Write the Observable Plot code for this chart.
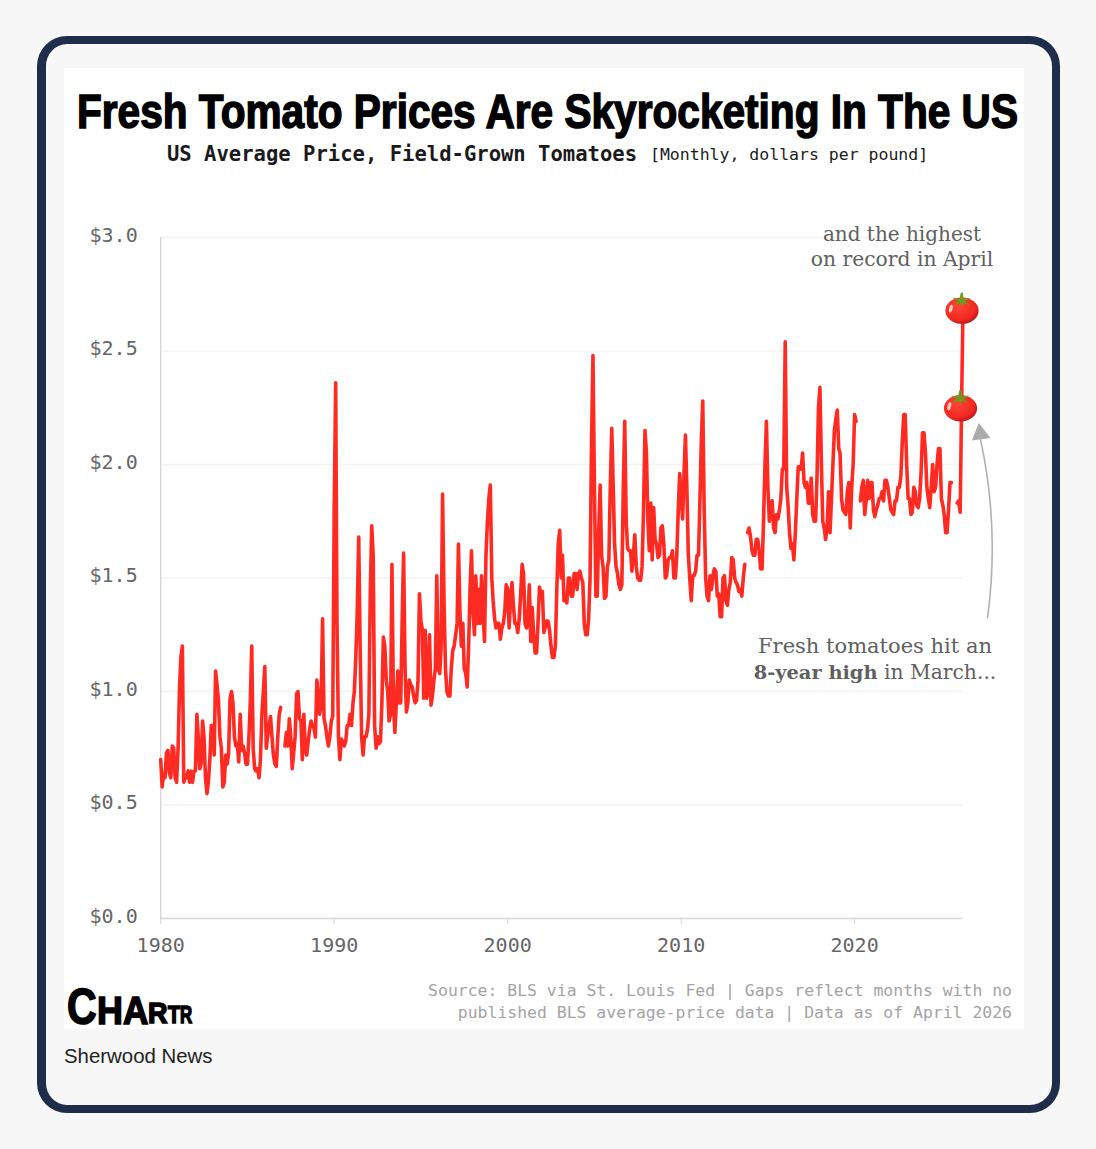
<!DOCTYPE html>
<html><head><meta charset="utf-8">
<script src="https://cdn.jsdelivr.net/npm/d3@7"></script>
<script src="https://cdn.jsdelivr.net/npm/@observablehq/plot@0.6"></script>
<style>
html,body{margin:0;padding:0;background:#f7f7f7;width:1096px;height:1149px;overflow:hidden}
#page{position:relative;width:1096px;height:1149px;background:#f7f7f7;overflow:hidden}
#frame{position:absolute;left:37px;top:36px;width:1006px;height:1061px;border:8px solid #1e2d4a;border-left-width:9px;border-radius:30px}
#panel{position:absolute;left:64px;top:68px;width:960px;height:961px;background:#fff}
#chart{position:absolute;left:64px;top:190px}
.abs{position:absolute;white-space:nowrap}
#title{left:77px;top:82px;font:700 48px/60px "Liberation Sans Narrow","Liberation Sans",sans-serif;color:#000;-webkit-text-stroke:1.5px #000;transform-origin:0 50%}
#sub{left:167px;top:142px;font:700 20.55px/24px "DejaVu Sans Mono",monospace;color:#1a1a1a}
#sub2{left:650px;top:143px;font:400 16.5px/24px "DejaVu Sans Mono",monospace;color:#1a1a1a}
.note{font:400 20px/25px "DejaVu Serif",serif;color:#606060;text-align:center}
#src{right:84px;top:980px;font:400 16.45px/22px "DejaVu Sans Mono",monospace;color:#a3a3a3;text-align:right}
#sherwood{left:64px;top:1043px;font:400 20.4px/26px "Liberation Sans",sans-serif;color:#222}
#logo span{position:absolute;font-family:"Liberation Sans",sans-serif;font-weight:700;color:#000;-webkit-text-stroke:1.6px #000;line-height:1;transform-origin:0 0}
</style></head><body>
<div id="page">
  <div id="frame"></div>
  <div id="panel"></div>
  <div id="chart"></div>
  <div class="abs" id="title">Fresh Tomato Prices Are Skyrocketing In The US</div>
  <div class="abs" id="sub">US Average Price, Field-Grown Tomatoes</div>
  <div class="abs" id="sub2">[Monthly, dollars per pound]</div>
  <div class="abs note" style="left:802px;top:222px;width:200px"><span>and the highest</span><br><span style="font-size:20.3px">on record in April</span></div>
  <div class="abs note" style="left:745px;top:633px;width:260px;line-height:26px"><span style="font-size:21px">Fresh tomatoes hit an</span><br><b style="font-size:19.4px">8-year high</b><span style="font-size:20.3px"> in March...</span></div>
  <div class="abs" id="src">Source: BLS via St. Louis Fed | Gaps reflect months with no<br>published BLS average-price data | Data as of April 2026</div>
  <div class="abs" id="logo" aria-label="Chartr" style="left:0;top:0">
    <span style="left:67px;top:982px;font-size:50px;transform:scaleX(.82)">C</span>
    <span style="left:97px;top:991px;font-size:39px;transform:scaleX(.92)">H</span>
    <span style="left:123px;top:991px;font-size:39px;transform:scaleX(.9)">A</span>
    <span style="left:148px;top:998px;font-size:30px;transform:scaleX(.9)">R</span>
    <span style="left:168px;top:1003px;font-size:24px;transform:scaleX(.82)">T</span>
    <span style="left:180px;top:1003px;font-size:24px;transform:scaleX(.7)">R</span>
  </div>
  <div class="abs" id="sherwood">Sherwood News</div>
</div>
<script>
const prices1980s = [
  .70,.58,.64,.62,.73,.74,.64,.62,.76,.75,.62,.60,
  .75,1.02,1.15,1.20,.60,.63,.62,.65,.60,.65,.60,.65,
  .65,.90,.80,.66,.68,.87,.80,.62,.55,.60,.70,.85,
  .85,.72,1.09,1.03,.96,.80,.75,.58,.60,.72,.68,.73,
  .97,1.00,.95,.80,.76,.77,.69,.90,.74,.76,.73,.68,
  .68,.80,.95,1.20,.75,.66,.65,.66,.62,.70,.90,1.00,
  1.11,.75,.80,.85,.89,.80,.72,.68,.67,.80,.90,.93,
  null,null,.76,.82,.76,.88,.80,.66,.73,.80,.99,1.00,
  .88,.87,.70,.90,.75,.72,.78,.83,.87,.85,.84,.80,
  1.05,.98,.90,.95,1.32,.88,.85,.80,.76,.80,.87,.89];
const prices1990s = [
  1.80,2.36,1.30,.80,.70,.79,.78,.76,.78,.85,.85,.90,
  .85,.95,1.00,1.15,1.35,1.68,1.20,.80,.72,.80,.80,.83,
  .90,1.45,1.73,1.60,.85,.75,.80,.77,.78,.95,1.24,1.20,
  1.05,1.00,.87,.90,1.56,.95,.82,.95,1.09,.95,.95,1.30,
  1.61,1.10,.91,.95,1.05,1.03,1.02,.98,.95,.96,1.05,1.43,
  1.31,1.27,.97,1.27,.97,1.00,1.25,.94,.98,1.05,1.10,1.51,
  1.10,1.08,1.20,1.87,1.40,1.10,1.00,.98,.98,1.10,1.18,1.20,
  1.25,1.30,1.65,1.35,1.20,1.30,1.10,1.08,1.02,1.20,1.45,1.62,
  1.35,1.25,1.51,1.30,1.45,1.30,1.51,1.35,1.22,1.60,1.75,1.85,
  1.91,1.50,1.40,1.32,1.28,1.30,1.30,1.23,1.28,1.30,1.35,1.47];
const prices2000s = [
  1.45,1.28,1.40,1.48,1.38,1.30,1.30,1.26,1.32,1.43,1.56,1.52,
  1.30,1.28,1.30,1.47,1.22,1.37,1.25,1.17,1.17,1.30,1.46,1.43,
  1.44,1.26,1.28,1.31,1.31,1.27,1.20,1.15,1.15,1.20,1.45,1.65,
  1.71,1.50,1.60,1.40,1.40,1.39,1.50,1.50,1.42,1.42,1.52,1.52,
  1.45,1.52,1.53,1.50,1.48,1.30,1.25,1.25,1.32,1.50,2.10,2.48,
  1.90,1.42,1.42,1.70,1.91,1.60,1.55,1.41,1.42,1.55,1.58,1.90,
  2.16,1.90,1.65,1.55,1.52,1.47,1.45,1.47,1.90,2.19,1.75,1.63,
  1.62,1.62,1.53,1.60,1.69,1.55,1.50,1.49,1.49,1.55,1.80,2.15,
  2.05,1.75,1.62,1.83,1.58,1.81,1.67,1.65,1.59,1.60,1.72,1.73,
  1.65,1.50,1.51,1.58,1.59,1.59,1.62,1.50,1.50,1.60,1.80,1.96];
const prices2010s = [
  1.85,1.76,1.95,2.13,1.90,1.60,1.50,1.40,1.51,1.51,1.53,1.60,
  1.60,1.85,2.10,2.28,1.80,1.50,1.42,1.40,1.51,1.45,1.51,1.54,
  1.53,1.42,1.43,1.33,1.33,1.50,1.51,1.40,1.38,1.45,1.48,1.59,
  1.58,1.50,1.48,1.47,1.44,1.45,1.42,1.50,1.56,null,1.70,1.72,
  1.68,1.62,1.60,1.60,1.67,1.67,1.62,1.54,1.54,1.75,2.00,2.19,
  1.90,1.75,1.82,1.84,1.72,1.70,1.78,1.76,1.80,1.85,1.98,1.98,
  2.54,1.90,1.82,1.70,1.63,1.65,1.58,1.70,1.85,1.99,1.99,1.98,
  2.05,1.92,1.90,1.92,1.83,1.83,1.94,1.78,1.75,1.75,1.95,2.25,
  2.34,2.00,1.75,1.72,1.67,1.72,1.88,1.70,1.85,2.00,2.15,2.20,
  2.24,2.07,2.05,1.85,1.80,1.79,1.78,1.88,1.92,1.72,1.90,2.00];
const prices2020s = [
  2.22,2.19,null,null,1.84,1.90,1.93,1.78,1.84,1.93,1.85,1.92,
  1.92,1.80,1.77,1.80,1.82,1.85,1.85,1.88,1.84,1.93,1.93,1.90,
  1.85,1.80,1.79,1.78,1.84,1.84,1.90,1.90,1.95,2.10,2.22,2.22,
  2.00,1.85,1.85,1.78,1.79,1.90,1.88,1.82,1.81,1.85,1.97,2.14,
  2.14,2.05,1.90,1.85,1.81,1.90,2.00,1.88,1.90,2.00,2.07,2.07,
  1.85,1.82,1.78,1.70,1.70,1.80,1.92,1.92,null,null,null,1.83,
  1.84,1.79,2.25,2.68];
const xTickYears = [1980,1990,2000,2010,2020];
const yTickValues = [0,0.5,1,1.5,2,2.5,3];
const tomatoMonths = ["2026-03-01","2026-04-01"];

const allPrices = [...prices1980s,...prices1990s,...prices2000s,...prices2010s,...prices2020s];
const series = allPrices.map((price,i)=>({date:new Date(Date.UTC(1980,i,1)),price}));
const tomatoes = series.filter(d=>tomatoMonths.includes(d.date.toISOString().slice(0,10)));

const tomatoSvg = `<svg xmlns="http://www.w3.org/2000/svg" viewBox="0 0 40 40">
<defs><radialGradient id="g" cx=".4" cy=".35" r=".72"><stop offset="0" stop-color="#ff4436"/><stop offset=".72" stop-color="#f0281f"/><stop offset="1" stop-color="#a90f1e"/></radialGradient></defs>
<ellipse cx="20" cy="21.5" rx="16.6" ry="13.2" fill="url(#g)"/>
<ellipse cx="8.8" cy="19.5" rx="1.8" ry="4" fill="#ffc9bb" transform="rotate(14 8.8 19.5)"/>
<path d="M18.8 3.6l2.2-.3.3 6.4 7.6-.9-5.6 3.6 4.6 3.7-6.6-1.9-1.3 3.4-2-3.4-6.6 1.9 4.4-3.8-5.6-3.6 7.4 1z" fill="#6f9a1f"/>
</svg>`;
const tomatoSrc = "data:image/svg+xml;charset=utf-8," + encodeURIComponent(tomatoSvg);

const axisFont = '"DejaVu Sans Mono",monospace';
const chart = Plot.plot({
  width:960, height:778,
  marginLeft:96.2, marginRight:61.5, marginTop:47, marginBottom:50,
  style:{background:"transparent",overflow:"visible"},
  x:{type:"utc",domain:[new Date(Date.UTC(1980,0,1)),new Date(Date.UTC(2026,3,1))]},
  y:{domain:[0,3]},
  marks:[
    Plot.ruleY(yTickValues.filter(v=>v>0),{stroke:"#f3f3f3",strokeWidth:1.3}),
    Plot.ruleX([new Date(Date.UTC(1980,0,1))],{y1:0,y2:3,stroke:"#d6d6d6",strokeWidth:1.4}),
    Plot.ruleY([0],{stroke:"#d6d6d6",strokeWidth:1.4}),
    Plot.axisY({ticks:yTickValues,tickSize:0,tickPadding:23,dy:-2,tickFormat:d=>"$"+d.toFixed(1),
      label:null,fontSize:20,fill:"#666",fontFamily:axisFont}),
    Plot.axisX({ticks:xTickYears.map(y=>new Date(Date.UTC(y,0,1))),tickSize:6,tickPadding:13,tickFormat:d=>String(d.getUTCFullYear()),
      label:null,fontSize:20,fill:"#666",stroke:"#d6d6d6",fontFamily:axisFont}),
    Plot.line(series,{x:"date",y:"price",stroke:"#ff2b23",strokeWidth:3.6,strokeLinejoin:"round",strokeLinecap:"round"}),
    Plot.image(tomatoes,{x:"date",y:"price",src:()=>tomatoSrc,width:40,height:40,dx:-1,dy:-1}),
    Plot.arrow([{x1:new Date(Date.UTC(2027,8,1)),y1:1.326,x2:new Date(Date.UTC(2027,3,1)),y2:2.114}],
      {x1:"x1",y1:"y1",x2:"x2",y2:"y2",stroke:"#b0b0b0",strokeWidth:1.6,bend:-10,headLength:0}),
    Plot.dot([{x:new Date(Date.UTC(2027,3,1)),y:2.135}],
      {x:"x",y:"y",symbol:"triangle",r:7,rotate:-8,fill:"#ababab",stroke:"none"})
  ]
});
document.getElementById("chart").append(chart);
const t=document.getElementById("title");
t.style.transform=`scaleX(${941/t.getBoundingClientRect().width})`;
</script>
</body></html>
